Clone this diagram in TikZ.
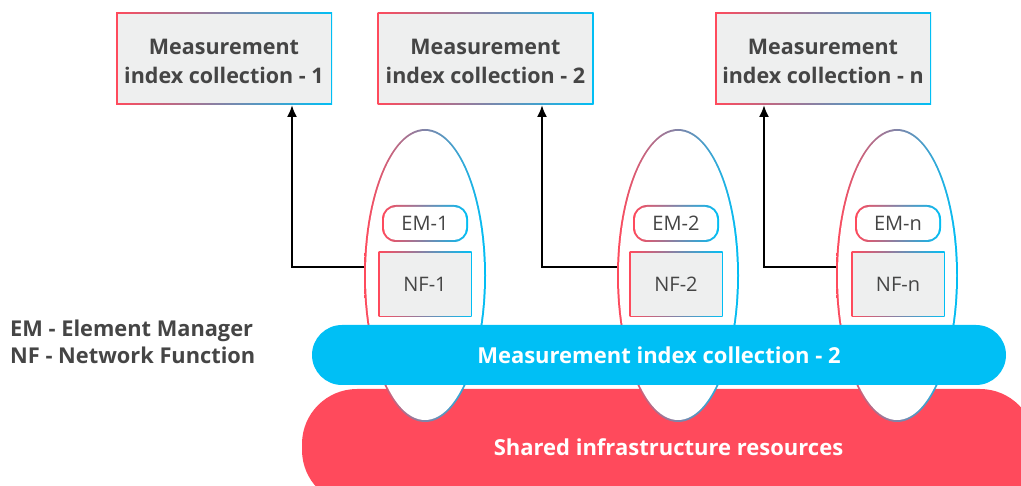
\documentclass[tikz,border=0pt]{standalone}
\usepackage{fontspec}
\setmainfont{Open Sans}
\usetikzlibrary{shapes.geometric,arrows.meta}
\definecolor{cred}{HTML}{FF4A5C}
\definecolor{cblue}{HTML}{00BFF5}
\definecolor{cgray}{HTML}{EEEFEF}
\definecolor{ctext}{HTML}{454545}
\tikzset{
 grad/.style={left color=cred, right color=cblue, draw=none, inner sep=0pt, outer sep=0pt},
 topouter/.style={grad, rectangle, minimum width=216pt, minimum height=92pt},
 topinner/.style={rectangle, fill=cgray, minimum width=213pt, minimum height=89pt, inner sep=0pt},
 toptext/.style={inner sep=0pt, align=center, font=\fontsize{21.5}{29}\selectfont\bfseries, text=ctext},
 ellouter/.style={grad, ellipse, minimum width=122pt, minimum height=293pt},
 ellinner/.style={ellipse, fill=white, minimum width=118pt, minimum height=289pt, inner sep=0pt},
 emouter/.style={grad, rectangle, rounded corners=14pt, minimum width=86pt, minimum height=37pt},
 eminner/.style={rectangle, rounded corners=12pt, fill=white, minimum width=82pt, minimum height=33pt, inner sep=0pt, font=\fontsize{20}{24}\selectfont, text=ctext},
 nfouter/.style={grad, rectangle, minimum width=93pt, minimum height=65pt},
 nfinner/.style={rectangle, fill=cgray, minimum width=91pt, minimum height=63pt, inner sep=0pt, font=\fontsize{20}{24}\selectfont, text=ctext},
 bar/.style={rectangle, inner sep=0pt, text=white, font=\fontsize{22}{26}\selectfont\bfseries},
 arr/.style={line width=2pt, -{Latex[length=12pt,width=10pt]}, black},
 legend/.style={anchor=west, align=left, inner sep=0pt, font=\fontsize{21.8}{27}\selectfont\bfseries, text=ctext},
}
\begin{document}
\begin{tikzpicture}[x=1pt,y=-1pt]
\path[use as bounding box, clip] (0,0) rectangle (1021,486);
% shared infrastructure bar
\node[bar, fill=cred, rounded corners=55pt, minimum width=733pt, minimum height=116pt] (infra) at (668.5,447) {Shared infrastructure resources};
% ellipses
\foreach \i/\x in {1/425,2/678,n/897}{
  \node[ellouter] (e\i o) at (\x,275.5) {};
  \node[ellinner] (e\i) at (\x,275.5) {};
}
% measurement bar
\node[bar, fill=cblue, rounded corners=30pt, minimum width=694pt, minimum height=60pt] (mbar) at (659,355) {Measurement index collection - 2};
% top boxes
\foreach \i/\x in {1/224,2/485.5,n/823}{
  \node[topouter] (t\i o) at (\x,59) {};
  \node[topinner] (t\i) at (\x,59) {};
  \node[toptext] (t\i txt) at (\x,61) {Measurement\\index collection - \i};
}
% EM and NF boxes
\foreach \i/\x in {1/425,2/676,n/898}{
  \node[emouter] (em\i o) at (\x,223.5) {};
  \node[eminner] (em\i) at (\x,223.5) {EM-\i};
  \node[nfouter] (nf\i o) at (\x,284.5) {};
  \node[nfinner] (nf\i) at (\x,284.5) {NF-\i};
}
% arrows
\draw[arr] ([yshift=8.5pt]e1o.west) -| ([xshift=68pt]t1o.south);
\draw[arr] ([yshift=8.5pt]e2o.west) -| ([xshift=56.5pt]t2o.south);
\draw[arr] ([yshift=8.5pt]eno.west) -| ([xshift=-59pt]tno.south);
% legend
\node[legend] (leg) at (10,341.5) {EM - Element Manager\\NF - Network Function};
\end{tikzpicture}
\end{document}
